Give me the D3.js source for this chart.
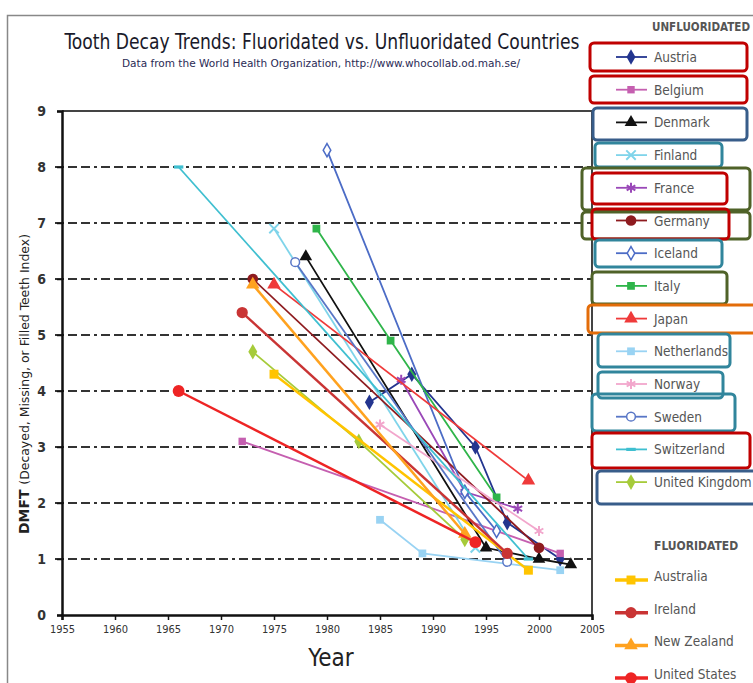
<!DOCTYPE html>
<html><head><meta charset="utf-8">
<script src="https://cdn.jsdelivr.net/npm/d3@7"></script>
<style>body{margin:0;background:#fff}svg{display:block}</style>
</head><body>
<svg id="c" width="753" height="683"></svg>
<script>
// ---- DATA ----
const xTicks = [1955,1960,1965,1970,1975,1980,1985,1990,1995,2000,2005];
const yTicks = [0,1,2,3,4,5,6,7,8,9];
const unfluoridated = ["Austria","Belgium","Denmark","Finland","France","Germany","Iceland","Italy","Japan","Netherlands","Norway","Sweden","Switzerland","United Kingdom"];
const fluoridated = ["Australia","Ireland","New Zealand","United States"];
const austria = [[1984,3.8],[1988,4.3],[1994,3.0],[1997,1.65],[2002,1.0]];
const belgium = [[1972,3.1],[2002,1.1]];
const denmark = [[1978,6.4],[1995,1.2],[2000,1.0],[2003,0.9]];
const finland = [[1975,6.9],[1994,1.2]];
const france = [[1987,4.2],[1993,2.2],[1998,1.9]];
const germany = [[1973,6.0],[2000,1.2]];
const iceland = [[1980,8.3],[1993,2.2],[1996,1.5]];
const italy = [[1979,6.9],[1986,4.9],[1996,2.1]];
const japan = [[1975,5.9],[1999,2.4]];
const netherlands = [[1985,1.7],[1989,1.1],[2002,0.8]];
const norway = [[1985,3.4],[2000,1.5]];
const sweden = [[1977,6.3],[1997,0.95]];
const switzerland = [[1966,8.0],[1999,1.0]];
const unitedKingdom = [[1973,4.7],[1983,3.1],[1993,1.35]];
const australia = [[1975,4.3],[1999,0.8]];
const ireland = [[1972,5.4],[1997,1.1]];
const newZealand = [[1973,5.9],[1993,1.45]];
const unitedStates = [[1966,4.0],[1994,1.3]];
const seriesValues = {"Austria":austria,"Belgium":belgium,"Denmark":denmark,"Finland":finland,"France":france,"Germany":germany,"Iceland":iceland,"Italy":italy,"Japan":japan,"Netherlands":netherlands,"Norway":norway,"Sweden":sweden,"Switzerland":switzerland,"United Kingdom":unitedKingdom,"Australia":australia,"Ireland":ireland,"New Zealand":newZealand,"United States":unitedStates};

// ---- STYLE ----
const dashSym = {draw(ctx,size){const w=Math.sqrt(size)*1.5;ctx.rect(-w/2,-1.6,w,3.2);}};
const style = {
 "Austria":{c:"#23358f",s:d3.symbolDiamond,open:false,sz:70},
 "Belgium":{c:"#c55fb0",s:d3.symbolSquare,open:false,sz:55},
 "Denmark":{c:"#111111",s:d3.symbolTriangle,open:false,sz:70},
 "Finland":{c:"#7fd4ea",s:d3.symbolTimes,open:false,sz:60,stroke:true},
 "France":{c:"#9a48b8",s:d3.symbolAsterisk,open:false,sz:70,stroke:true},
 "Germany":{c:"#8e1b1f",s:d3.symbolCircle,open:false,sz:90},
 "Iceland":{c:"#4c6cc6",s:d3.symbolDiamond,open:true,sz:50},
 "Italy":{c:"#2fb54a",s:d3.symbolSquare,open:false,sz:60},
 "Japan":{c:"#ef3a3a",s:d3.symbolTriangle,open:false,sz:80},
 "Netherlands":{c:"#99d3f3",s:d3.symbolSquare,open:false,sz:60},
 "Norway":{c:"#f2a6cc",s:d3.symbolAsterisk,open:false,sz:70,stroke:true},
 "Sweden":{c:"#5876c6",s:d3.symbolCircle,open:true,sz:60},
 "Switzerland":{c:"#3fbfd0",s:dashSym,open:false,sz:40},
 "United Kingdom":{c:"#a6cb3a",s:d3.symbolDiamond,open:false,sz:70},
 "Australia":{c:"#ffc400",s:d3.symbolSquare,open:false,sz:80},
 "Ireland":{c:"#c93434",s:d3.symbolCircle,open:false,sz:100},
 "New Zealand":{c:"#ffa21f",s:d3.symbolTriangle,open:false,sz:80},
 "United States":{c:"#ee2424",s:d3.symbolCircle,open:false,sz:110}
};
const fontN = "'Liberation Sans Narrow','DejaVu Sans Condensed','Liberation Sans',sans-serif";

const svg = d3.select("#c");
const x = d3.scaleLinear().domain([1955,2005]).range([62,592]);
const y = d3.scaleLinear().domain([0,9]).range([615,111]);

// outer frame
svg.append("path").attr("d","M7.5,683 V15.5 H753").attr("fill","none").attr("stroke","#888").attr("stroke-width",1.5);

// title
svg.append("text").attr("x",322).attr("y",49).attr("text-anchor","middle")
 .attr("font-family",fontN).attr("font-size",22).attr("fill","#1a1a2a")
 .attr("textLength",515).attr("lengthAdjust","spacingAndGlyphs")
 .text("Tooth Decay Trends:  Fluoridated  vs. Unfluoridated  Countries");
svg.append("text").attr("x",321).attr("y",67).attr("text-anchor","middle")
 .attr("font-family",fontN).attr("font-size",11).attr("fill","#2a2a55")
 .attr("textLength",398).attr("lengthAdjust","spacingAndGlyphs")
 .text("Data from the World Health Organization, http://www.whocollab.od.mah.se/");

// grid
svg.append("g").selectAll("line").data(yTicks.filter(d=>d>0&&d<9)).join("line")
 .attr("x1",55).attr("x2",592).attr("y1",d=>y(d)).attr("y2",d=>y(d))
 .attr("stroke","#333").attr("stroke-width",2).attr("stroke-dasharray","9,4,9,4,9,4,3,4");

// plot box top/right
svg.append("path").attr("d",`M${x(1955)},${y(9)} H${x(2005)} V${y(0)}`).attr("fill","none").attr("stroke","#444").attr("stroke-width",2);

// axes
const yAxis = svg.append("g").attr("transform",`translate(${x(1955)},0)`)
 .call(d3.axisLeft(y).tickValues(yTicks).tickSize(5).tickFormat(d3.format("d")));
yAxis.select(".domain").attr("stroke","#111").attr("stroke-width",2.5);
yAxis.selectAll(".tick line").attr("stroke","#111").attr("stroke-width",1.5);
yAxis.selectAll(".tick text").attr("font-family",fontN).attr("font-size",14).attr("font-weight","bold").attr("fill","#333").attr("x",-16);

const xAxis = svg.append("g").attr("transform",`translate(0,${y(0)})`)
 .call(d3.axisBottom(x).tickValues(xTicks).tickSize(5).tickFormat(d3.format("d")));
xAxis.select(".domain").attr("stroke","#111").attr("stroke-width",2.5);
xAxis.selectAll(".tick line").attr("stroke","#111").attr("stroke-width",1.5);
xAxis.selectAll(".tick text").attr("font-family",fontN).attr("font-size",11).attr("fill","#333").attr("y",10);

// axis titles
svg.append("text").attr("x",331).attr("y",666).attr("text-anchor","middle")
 .attr("font-family",fontN).attr("font-size",24).attr("fill","#222").text("Year");
const yl = svg.append("text").attr("transform","translate(29,384) rotate(-90)").attr("text-anchor","middle")
 .attr("font-family",fontN).attr("font-size",12.5).attr("fill","#222")
 .attr("textLength",300).attr("lengthAdjust","spacingAndGlyphs");
yl.append("tspan").attr("font-weight","bold").attr("font-size",14).text("DMFT ");
yl.append("tspan").text("(Decayed, Missing, or Filled Teeth Index)");

// series
const line = d3.line().x(d=>x(d[0])).y(d=>y(d[1]));
const allNames = unfluoridated.concat(fluoridated);
function drawMarker(g, name, px, py) {
 const st = style[name];
 const p = g.append("path").attr("transform",`translate(${px},${py})`)
  .attr("d",d3.symbol().type(st.s).size(st.sz)());
 if (st.stroke) p.attr("fill","none").attr("stroke",st.c).attr("stroke-width",2);
 else if (st.open) p.attr("fill","#fff").attr("stroke",st.c).attr("stroke-width",1.5);
 else p.attr("fill",st.c);
}
const sg = svg.append("g");
allNames.forEach(name=>{
 const st = style[name];
 const isF = fluoridated.includes(name);
 const vals = seriesValues[name];
 sg.append("path").datum(vals).attr("d",line).attr("fill","none")
  .attr("stroke",st.c).attr("stroke-width",isF?2.5:1.8);
 vals.forEach(v=>drawMarker(sg,name,x(v[0]),y(v[1])));
});

// legend
svg.append("text").attr("x",750).attr("y",31).attr("text-anchor","end")
 .attr("font-family",fontN).attr("font-size",12).attr("font-weight","bold").attr("fill","#555")
 .attr("textLength",98).attr("lengthAdjust","spacingAndGlyphs").text("UNFLUORIDATED");
const legY0 = 57, legDy = 32.7;
unfluoridated.forEach((name,i)=>{
 const ly = legY0 + i*legDy;
 const st = style[name];
 svg.append("line").attr("x1",616).attr("x2",647).attr("y1",ly).attr("y2",ly).attr("stroke",st.c).attr("stroke-width",1.8);
 drawMarker(svg,name,631,ly);
 svg.append("text").attr("x",654).attr("y",ly+5).attr("font-family",fontN).attr("font-size",13.5).attr("fill","#555").text(name);
});
svg.append("text").attr("x",654).attr("y",550).attr("font-family",fontN).attr("font-size",12).attr("font-weight","bold").attr("fill","#555").text("FLUORIDATED");
fluoridated.forEach((name,i)=>{
 const ly = 580 + i*32.7;
 const st = style[name];
 svg.append("line").attr("x1",615).attr("x2",648).attr("y1",ly).attr("y2",ly).attr("stroke",st.c).attr("stroke-width",3.5);
 drawMarker(svg,name,631,ly);
 svg.append("text").attr("x",654).attr("y",ly+1).attr("font-family",fontN).attr("font-size",13.5).attr("fill","#555").text(name);
});

// annotation boxes around legend entries
const boxes = [
 [590,43,747,71,"#c00000"],[590,76,747,103,"#c00000"],[593,108,747,140,"#385d8a"],
 [595,143,722,167,"#31859c"],[582,168,750,210,"#4f6228"],[592,173,727,204,"#c00000"],
 [582,212,750,239,"#4f6228"],[592,209,729,239,"#c00000"],[595,240,722,267,"#31859c"],
 [592,272,727,304,"#4f6228"],[588,305,760,333,"#e36c09"],[598,334,730,367,"#31859c"],
 [598,372,723,398,"#31859c"],[592,394,735,431,"#31859c"],[592,433,750,468,"#c00000"],
 [597,471,760,504,"#385d8a"]
];
svg.append("g").selectAll("rect").data(boxes).join("rect")
 .attr("x",d=>d[0]).attr("y",d=>d[1]).attr("width",d=>d[2]-d[0]).attr("height",d=>d[3]-d[1])
 .attr("rx",4).attr("fill","none").attr("stroke",d=>d[4]).attr("stroke-width",3);
</script>
</body></html>
